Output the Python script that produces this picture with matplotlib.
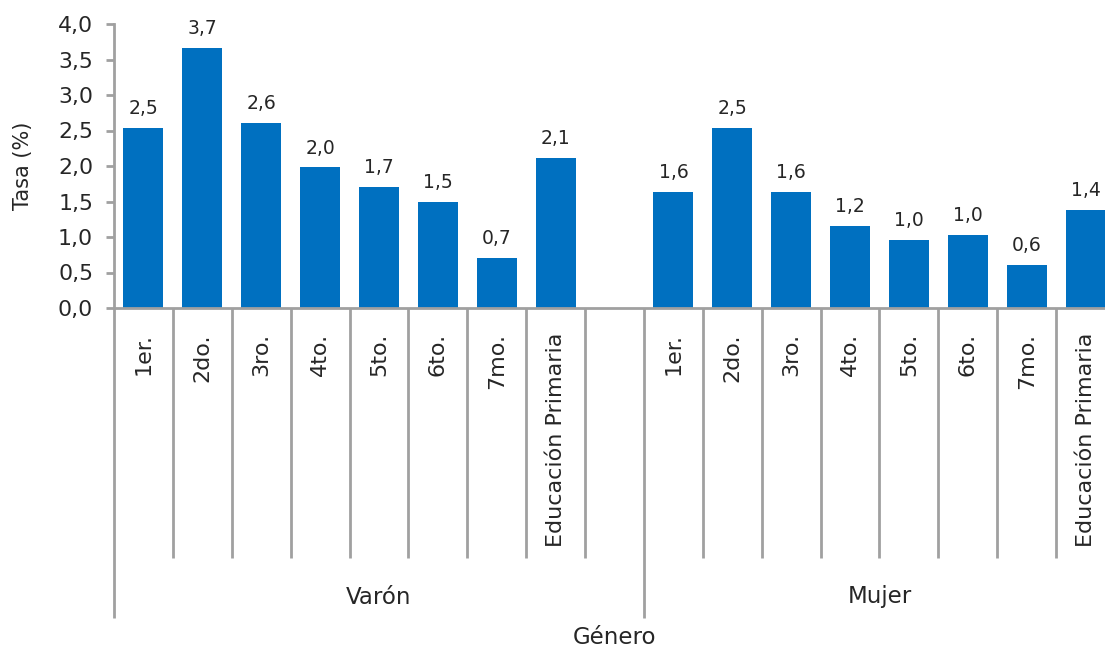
import matplotlib
matplotlib.use("Agg")
import matplotlib.pyplot as plt
from matplotlib.transforms import blended_transform_factory

categories = ['1er.', '2do.', '3ro.', '4to.', '5to.', '6to.', '7mo.', 'Educación Primaria']
groups = ['Varón', 'Mujer']
varon = [2.53, 3.66, 2.61, 1.98, 1.71, 1.50, 0.71, 2.11]
mujer = [1.63, 2.53, 1.63, 1.16, 0.96, 1.03, 0.61, 1.38]
yticks = [0.0, 0.5, 1.0, 1.5, 2.0, 2.5, 3.0, 3.5, 4.0]

BAR = '#0070C0'
GRAY = '#A0A0A0'
TXT = '#262626'
plt.rcParams['font.family'] = ['DejaVu Sans']

W, H = 1105, 647
fig = plt.figure(figsize=(W / 100, H / 100), dpi=100)
x0, x1, ytop, ybot = 114, 1115, 24, 308
ax = fig.add_axes([x0 / W, 1 - ybot / H, (x1 - x0) / W, (ybot - ytop) / H])

n = len(categories)
pos_v = list(range(n))
pos_m = [n + 1 + i for i in range(n)]
total = 2 * n + 1

ax.bar(pos_v, varon, width=0.68, color=BAR, zorder=2)
ax.bar(pos_m, mujer, width=0.68, color=BAR, zorder=2)

for p, v in zip(pos_v + pos_m, varon + mujer):
    ax.annotate(f"{v:.1f}".replace('.', ','), (p, v), xytext=(0, 10), textcoords='offset points',
                ha='center', va='baseline', fontsize=13.5, color=TXT)

ax.set_xlim(-0.5, total - 0.5)
ax.set_ylim(0, 4)
ax.set_yticks(yticks)
ax.set_yticklabels([f"{t:.1f}".replace('.', ',') for t in yticks], fontsize=15.8, color=TXT)
ax.set_xticks([])
ax.tick_params(axis='y', length=6, width=2, color=GRAY, pad=9, direction='out')
for s in ['top', 'right']:
    ax.spines[s].set_visible(False)
for s in ['left', 'bottom']:
    ax.spines[s].set_color(GRAY)
    ax.spines[s].set_linewidth(2.0)
fig.text(23 / W, 1 - 166 / H, 'Tasa (%)', rotation=90, ha='center', va='center',
         fontsize=15, color=TXT)

tr = blended_transform_factory(ax.transData, fig.transFigure)
y_axis = 1 - ybot / H
y_short = 1 - 558 / H
y_long = 1 - 618 / H
# separators
for k in range(total + 1):
    xs = k - 0.5
    long = (k == 0 or k == n + 1 or k == total)
    ax.plot([xs, xs], [y_axis, y_long if long else y_short], color=GRAY, lw=2.0,
            transform=tr, clip_on=False, solid_capstyle='butt')

# category labels
for p, c in zip(pos_v + pos_m, categories + categories):
    ax.text(p, 1 - 333 / H, c, rotation=90, ha='center', va='top', fontsize=16,
            color=TXT, transform=tr)

# group labels
ax.text((-0.5 + n + 0.5) / 2, 1 - 597 / H, groups[0], ha='center', va='center',
        fontsize=16.5, color=TXT, transform=tr)
ax.text((n + 0.5 + total - 0.5) / 2, 1 - 597 / H, groups[1], ha='center', va='center',
        fontsize=16.5, color=TXT, transform=tr)
ax.text((total - 1) / 2, 1 - 637 / H, 'Género', ha='center', va='center',
        fontsize=16.5, color=TXT, transform=tr)

fig.savefig('out.png', dpi=100)
